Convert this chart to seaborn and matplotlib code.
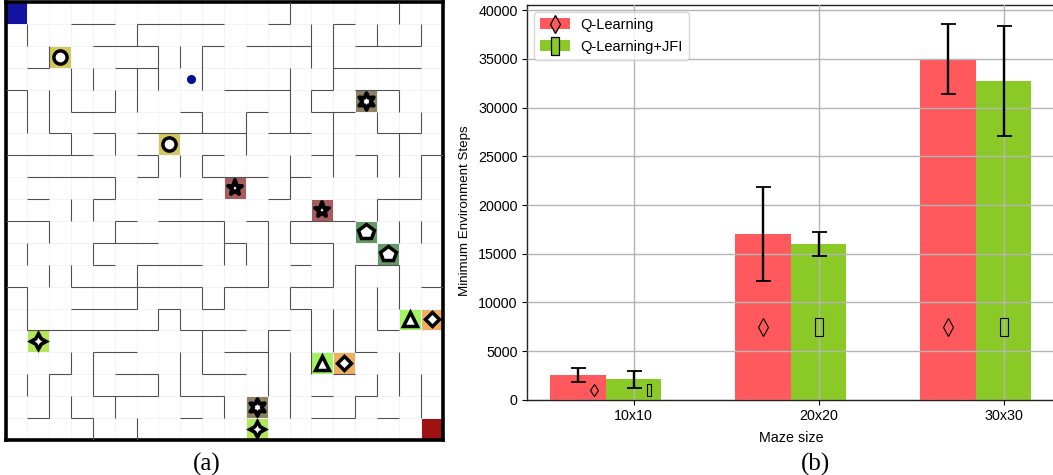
import numpy as np
import pandas as pd
import matplotlib
matplotlib.use("Agg")
import matplotlib.pyplot as plt
import seaborn as sns
from matplotlib.colors import ListedColormap
from matplotlib.lines import Line2D
from matplotlib.markers import MarkerStyle
from matplotlib.patches import Patch
from matplotlib.path import Path
from matplotlib.legend_handler import HandlerTuple

# ---- maze data
N = 20
H_WALLS = {
 1: [(3,5),(6,10),(12,13),(15,16)],
 2: [(4,7),(9,10),(11,14),(16,19)],
 3: [(1,2),(5,7),(15,19)],
 4: [(0,1),(10,13),(14,15),(16,18)],
 5: [(3,5),(8,9),(11,12),(14,16)],
 6: [(2,3),(4,5),(6,11),(12,14),(17,19)],
 7: [(0,4),(6,7),(9,10),(14,15),(16,17),(19,20)],
 8: [(1,5),(6,7),(9,12),(13,14)],
 9: [(1,2),(4,5),(7,9),(12,13),(17,19)],
 10: [(0,2),(5,6),(7,10),(11,12),(13,16)],
 11: [(4,7),(10,11),(13,15)],
 12: [(4,5),(6,9),(13,14),(16,18)],
 13: [(0,1),(3,9),(10,12),(13,15),(19,20)],
 14: [(3,6),(7,8),(9,10),(13,14)],
 15: [(1,7),(8,11),(12,13),(17,18)],
 16: [(4,6),(10,12),(16,17)],
 17: [(2,3),(5,7),(9,11),(15,16)],
 18: [(4,7),(8,10),(14,15),(16,17)],
 19: [(1,2),(3,4),(8,9),(14,16),(17,18)],
}
V_WALLS = {
 1: [(1,2),(4,6),(11,12),(13,15),(17,18)],
 2: [(2,3),(4,6),(10,11),(12,13),(17,19)],
 3: [(3,5),(6,7),(9,10),(12,13),(16,17),(18,19)],
 4: [(3,4),(9,10),(11,12),(16,18),(19,20)],
 5: [(4,5),(6,7),(8,9),(10,11),(18,19)],
 6: [(1,2),(3,5),(12,14),(19,20)],
 7: [(2,4),(7,8),(14,15),(17,18)],
 8: [(2,3),(7,8),(14,15),(16,18)],
 9: [(2,4),(5,6),(7,8),(13,14),(15,17)],
 10: [(10,11),(11,12),(13,14),(18,19)],
 11: [(5,7),(11,12)],
 12: [(10,13),(15,18)],
 13: [(0,1),(3,6),(7,9),(10,11),(13,14),(16,19)],
 14: [(1,3),(4,5),(14,17)],
 15: [(1,4),(5,8),(11,13),(14,16)],
 16: [(12,16),(18,19)],
 17: [(1,2),(5,6),(7,8),(9,10),(13,15),(17,18)],
 18: [(0,1),(4,5),(6,8),(10,11),(12,14),(16,18)],
 19: [(1,2),(5,6),(7,9),(10,11),(17,19)],
}
# (name, colour, marker, marker size, edge width, join, cells as (row, col))
CELL_GROUPS = [
 ("start",  "#1414a0", None,      0,    0,   None,    [(0,0)]),
 ("goal",   "#9e1212", None,      0,    0,   None,    [(19,19)]),
 ("circle", "#d2c85e", "o",       9.5,  2.5, "round", [(2,2),(6,7)]),
 ("hex",    "#8b8264", (6,1,0),   12,   2.8, "round", [(4,16),(18,11)]),
 ("star",   "#a85d5d", "*",       11,   2.8, "round", [(8,10),(9,14)]),
 ("pent",   "#659a65", "p",       11.5, 2.5, "miter", [(10,16),(11,17)]),
 ("tri",    "#a2f55e", "^",       9.5,  2.5, "miter", [(14,18),(16,14)]),
 ("diam",   "#f0ae62", "D",       7.5,  2.5, "miter", [(14,19),(16,15)]),
 ("four",   "#b4e65a", (4,1,0),   11,   2.6, "miter", [(15,1),(19,11)]),
]
AGENT_CELL = (3, 8)

# ---- bar data
SIZES = ["10x10", "20x20", "30x30"]
Q_MEAN = [2566, 17000, 35000]
Q_ERR = [720, 4850, 3600]
JFI_MEAN = [2105, 16000, 32750]
JFI_ERR = [870, 1200, 5650]
MARK_Y = [1000, 7430, 7430]
MARK_DX = [0.085, 0.0, 0.0]
MARK_SCALE = [0.65, 1.0, 1.0]

W, H = 1053, 475
fig = plt.figure(figsize=(W/100, H/100), dpi=100, facecolor="white")
plt.rcParams["font.family"] = ["Liberation Sans", "DejaVu Sans"]

def rect(x0, y0, x1, y1):
    return [x0/W, 1-y1/H, (x1-x0)/W, (y1-y0)/H]

# ---- panel (a)
ax = fig.add_axes(rect(5.5, 2.2, 442.5, 439.8))
mat = np.zeros((N, N), dtype=int)
colors = ["#ffffff"]
for i, (_, col, _m, _s, _e, _j, cells) in enumerate(CELL_GROUPS, start=1):
    colors.append(col)
    for r, c in cells:
        mat[r, c] = i
sns.heatmap(mat, ax=ax, cmap=ListedColormap(colors), vmin=-0.5, vmax=len(colors)-0.5,
            cbar=False, linewidths=0.6, linecolor="#f3f3fb", square=False,
            xticklabels=False, yticklabels=False)
WALL = "#505050"
for r, segs in H_WALLS.items():
    for a, b in segs:
        ax.hlines(r, a, b, color=WALL, lw=0.8, zorder=3)
for c, segs in V_WALLS.items():
    for a, b in segs:
        ax.vlines(c, a, b, color=WALL, lw=0.8, zorder=3)
for _, _c, m, size, edge, join, cells in CELL_GROUPS:
    if m is None:
        continue
    style = MarkerStyle(m, joinstyle=join)
    for r, c in cells:
        ax.plot(c+0.5, r+0.5, marker=style, ms=size, mfc="white", mec="black", mew=edge, zorder=4, ls="")
ax.plot(AGENT_CELL[1]+0.5, AGENT_CELL[0]+0.5, marker="o", ms=5.5, color="#0a0a9c", zorder=4, ls="")
for s in ax.spines.values():
    s.set_visible(True)
    s.set_color("black")
    s.set_linewidth(2.6)
ax.set_xlim(0, N)
ax.set_ylim(N, 0)

# ---- panel (b)
bx = fig.add_axes(rect(526.7, 4.7, 1055, 399.8))
df = pd.DataFrame({
    "size": SIZES*2,
    "steps": Q_MEAN + JFI_MEAN,
    "algo": ["Q-Learning"]*3 + ["Q-Learning+JFI"]*3,
})
RED, GREEN = "#ff595e", "#8ac926"
sns.barplot(data=df, x="size", y="steps", hue="algo", ax=bx, palette=[RED, GREEN],
            width=0.6, dodge=True, gap=0, errorbar=None, legend=False, saturation=1, zorder=1)
pos = np.arange(len(SIZES))
for off, mean, err in ((-0.15, Q_MEAN, Q_ERR), (0.15, JFI_MEAN, JFI_ERR)):
    bx.errorbar(pos+off, mean, yerr=err, fmt="none", ecolor="black", elinewidth=1.7,
                capsize=5.4, capthick=1.3, zorder=5)

RECT_MARK = Path([(-0.42,-1),(0.42,-1),(0.42,1),(-0.42,1),(-0.42,-1)],
                 [Path.MOVETO, Path.LINETO, Path.LINETO, Path.LINETO, Path.CLOSEPOLY])
for i in pos:
    k = MARK_SCALE[i]
    bx.plot(i-0.15+MARK_DX[i], MARK_Y[i], marker="d", ms=9.2*k, mfc="none", mec="black", mew=0.8, zorder=4, ls="")
    bx.plot(i+0.15+MARK_DX[i], MARK_Y[i], marker=RECT_MARK, ms=13*k, mfc="none", mec="black", mew=0.8, zorder=4, ls="")

bx.set_xticks(pos+0.15, SIZES)
bx.set_xlim(0.15-107/185, 0.15+(1055-633.7)/185)
bx.set_ylim(0, 40575)
bx.set_yticks(np.arange(0, 40001, 5000))
bx.grid(True, color="#b5b5b5", lw=1.0)
bx.set_axisbelow(False)
bx.tick_params(labelsize=10.3, length=3.5, width=0.8, pad=3)
bx.set_xlabel("Maze size", fontsize=10.3, labelpad=6)
bx.set_ylabel("Minimum Environment Steps", fontsize=9.6, labelpad=5)
bx.yaxis.label.set_y(0.478)
for s in bx.spines.values():
    s.set_color("#222222")
    s.set_linewidth(1.0)

h1 = (Patch(color=RED, lw=0), Line2D([], [], marker="d", ms=9.2, mfc=RED, mec="black", mew=0.9, ls=""))
h2 = (Patch(color=GREEN, lw=0), Line2D([], [], marker=RECT_MARK, ms=13, mfc=GREEN, mec="black", mew=0.9, ls=""))
bx.legend([h1, h2], ["Q-Learning", "Q-Learning+JFI"], loc="upper left", fontsize=10.5,
          handler_map={tuple: HandlerTuple(ndivide=1, pad=0)}, handlelength=2.05, handleheight=0.8,
          borderaxespad=0.5, framealpha=0.8, labelspacing=0.55, handletextpad=0.75, borderpad=0.4)

# ---- captions
fig.text(207/W, 1-464.5/H, "(a)", family="Liberation Serif", fontsize=18, ha="center", va="center")
fig.text(816/W, 1-464.5/H, "(b)", family="Liberation Serif", fontsize=18, ha="center", va="center")

fig.savefig("out.png", dpi=100)
